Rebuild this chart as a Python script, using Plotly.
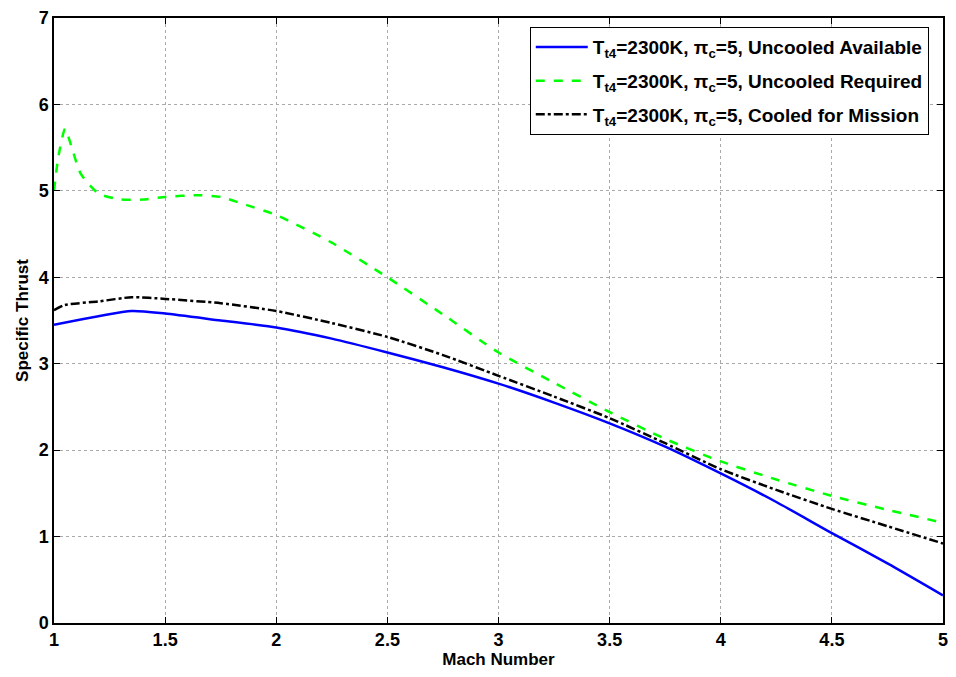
import plotly.graph_objects as go

# Data
mach_avail = [1.0, 1.35, 1.5, 1.75, 2.0, 2.25, 2.5, 2.75, 3.0, 3.25, 3.5, 3.75, 4.0, 4.25, 4.5, 4.75, 5.0]
thrust_avail = [3.45, 3.61, 3.58, 3.50, 3.42, 3.29, 3.13, 2.96, 2.77, 2.55, 2.31, 2.04, 1.73, 1.40, 1.04, 0.69, 0.32]

mach_req = [1.0, 1.02, 1.05, 1.08, 1.12, 1.2, 1.3, 1.4, 1.5, 1.65, 1.75, 1.85, 2.0, 2.25, 2.5, 2.75, 3.0, 3.25, 3.5, 3.75, 4.0, 4.25, 4.5, 4.75, 5.0]
thrust_req = [5.0, 5.4, 5.72, 5.5, 5.2, 4.97, 4.9, 4.9, 4.93, 4.95, 4.93, 4.85, 4.72, 4.4, 4.0, 3.57, 3.13, 2.78, 2.44, 2.13, 1.87, 1.66, 1.47, 1.31, 1.16]

mach_cool = [1.0, 1.05, 1.2, 1.35, 1.5, 1.75, 2.0, 2.25, 2.5, 2.75, 3.0, 3.25, 3.5, 3.75, 4.0, 4.25, 4.5, 4.75, 5.0]
thrust_cool = [3.62, 3.68, 3.72, 3.77, 3.75, 3.70, 3.61, 3.47, 3.31, 3.10, 2.86, 2.62, 2.37, 2.08, 1.78, 1.54, 1.32, 1.12, 0.92]

x_ticks = [1, 1.5, 2, 2.5, 3, 3.5, 4, 4.5, 5]
x_tick_labels = ["1", "1.5", "2", "2.5", "3", "3.5", "4", "4.5", "5"]
y_ticks = [0, 1, 2, 3, 4, 5, 6, 7]
y_tick_labels = ["0", "1", "2", "3", "4", "5", "6", "7"]

names = [
    "<b>T<sub>t4</sub>=2300K, π<sub>c</sub>=5, Uncooled Available</b>",
    "<b>T<sub>t4</sub>=2300K, π<sub>c</sub>=5, Uncooled Required</b>",
    "<b>T<sub>t4</sub>=2300K, π<sub>c</sub>=5, Cooled for Mission</b>",
]

FONT = "Liberation Sans, Arial, sans-serif"

fig = go.Figure()
fig.add_trace(go.Scatter(x=mach_avail, y=thrust_avail, mode="lines", name=names[0], legendgroup="a",
                         line=dict(color="#0000FF", width=2.5, shape="spline", smoothing=0.6)))
fig.add_trace(go.Scatter(x=mach_req, y=thrust_req, mode="lines", name=names[1], legendgroup="b",
                         line=dict(color="#00FF00", width=2.5, dash="dash", shape="spline", smoothing=0.6)))
fig.add_trace(go.Scatter(x=mach_cool, y=thrust_cool, mode="lines", name=names[2], legendgroup="c",
                         line=dict(color="black", width=2.5, dash="dashdot", shape="spline", smoothing=0.6)))

axis_common = dict(
    showline=True, linecolor="black", linewidth=1.5, mirror="ticks",
    ticks="inside", ticklen=6, tickcolor="black",
    showgrid=True, gridcolor="#aaaaaa", griddash="dot", gridwidth=1,
    zeroline=False,
    tickfont=dict(family=FONT, size=18, color="black", weight="bold"),
)

fig.update_xaxes(range=[1, 5], tickvals=x_ticks, ticktext=["<b>%s</b>" % t for t in x_tick_labels],
                 title=dict(text="<b>Mach Number</b>", font=dict(family=FONT, size=17, color="black"), standoff=0),
                 **axis_common)
fig.update_yaxes(range=[0, 7], tickvals=y_ticks, ticktext=["<b>%s</b>" % t for t in y_tick_labels],
                 title=dict(text="<b>Specific Thrust</b>", font=dict(family=FONT, size=17, color="black"), standoff=6),
                 **axis_common)

fig.update_layout(
    width=956, height=677,
    margin=dict(l=54, r=8, t=13, b=54),
    paper_bgcolor="white", plot_bgcolor="white",
    font=dict(family=FONT, color="black"),
    legend=dict(
        x=0.984, y=0.985, xanchor="right", yanchor="top",
        bgcolor="white", bordercolor="black", borderwidth=1,
        font=dict(family=FONT, size=19, color="black"),
        tracegroupgap=6, itemwidth=52,
    ),
    showlegend=True,
)

fig.write_html("out.html")
